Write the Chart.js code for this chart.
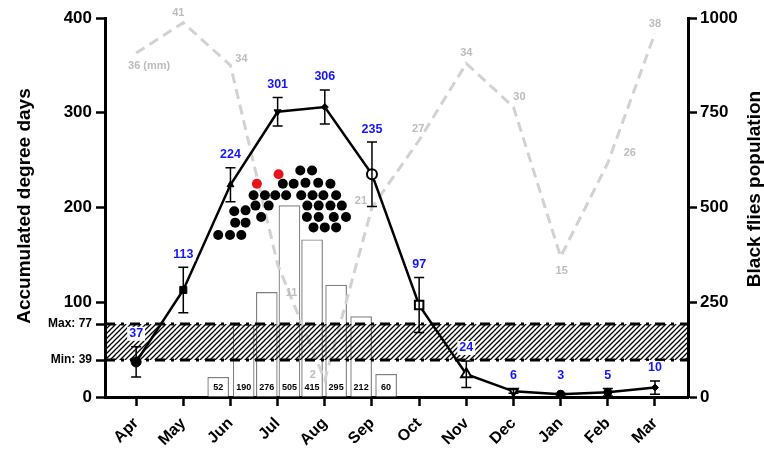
<!DOCTYPE html>
<html>
<head>
<meta charset="utf-8">
<script src="https://cdn.jsdelivr.net/npm/chart.js@4.4.0/dist/chart.umd.min.js"></script>
<style>
  body { margin: 0; background: #fff; }
  #wrap { width: 764px; height: 449px; }
</style>
</head>
<body>
<div id="wrap"><canvas id="chart" width="764" height="449"></canvas></div>
<script>
// === DATA ===
const months = ["Apr", "May", "Jun", "Jul", "Aug", "Sep", "Oct", "Nov", "Dec", "Jan", "Feb", "Mar"];
const degreeDays = [37, 113, 224, 301, 306, 235, 97, 24, 6, 3, 5, 10];
const degreeDaysErr = [16, 24, 18, 15, 18, 34, 29, 14, 2, 1, 4, 7];
const rainfallMm = [36, 41, 34, 11, 2, 21, 27, 34, 30, 15, 26, 38];
// rainfall overlay is not to scale in the original, heights read off in left-axis units
const rainfallHeight = [363, 395, 350, 140, 18, 200, 271, 352, 306, 148, 247, 384];
const flyCounts = [52, 190, 276, 505, 415, 295, 212, 60];
const flySamplePos = [1.74, 2.28, 2.77, 3.25, 3.73, 4.24, 4.77, 5.30];
const thresholdMin = 39;
const thresholdMax = 77;
const leftTicks = [0, 39, 77, 100, 200, 300, 400];
const rightTicks = [0, 250, 500, 750, 1000];
// fly cluster (month position, degree days), first two are the red ones
const flyDotX = [2.56, 3.02, 3.48, 3.73, 3.11, 3.34, 3.59, 3.86, 4.12,
  2.49, 2.73, 2.95, 3.18, 3.50, 3.74, 3.97, 4.24,
  2.53, 2.81, 3.63, 3.87, 4.12, 4.36,
  2.65, 3.62, 3.87, 4.19, 4.45,
  3.76, 4.00, 4.24,
  2.08, 2.32, 2.10, 2.32, 1.74, 1.99, 2.23];
const flyDotY = [225, 235, 239, 239, 225, 225, 226, 226, 225,
  213, 213, 213, 213, 213, 213, 213, 213,
  202, 202, 202, 202, 202, 202,
  190, 190, 190, 190, 190,
  179, 179, 179,
  196, 197, 184, 184, 171, 171, 171];
const redDots = 2;

// === STYLE ===
const FONT = "'Liberation Sans', Arial, sans-serif";
Chart.defaults.font.family = FONT;
Chart.defaults.color = "#000";

const markerStyle = ["circle", "rect", "triangle", "triangle", "rectRot", "circle", "rect", "triangle", "triangle", "circle", "circle", "rectRot"];
const markerRot = [0, 0, 0, 180, 0, 0, 0, 0, 180, 0, 0, 0];
const markerFill = ["#000", "#000", "#000", "#000", "#000", "#fff", "#fff", "#fff", "#fff", "#000", "#000", "#000"];
const markerSize = [5, 5, 4, 4, 3.5, 5, 6, 6, 5, 4, 4, 3.5];
const markerBorder = [1, 1, 1, 1, 1, 2, 2, 2, 2, 1, 1, 1];
// rainfall label offsets from each point [dx, dy]
const rainLabelOffset = [[13, 13], [-5, -10], [11, -6], [14, 29], [-12, -5], [-11, -7],
  [-1, -11], [0, -11], [6, -10], [1, 14], [22, -10], [0, -9]];

const ctx = document.getElementById("chart").getContext("2d");

function makeHatch() {
  const c = document.createElement("canvas");
  c.width = 5; c.height = 5;
  const g = c.getContext("2d");
  g.strokeStyle = "#000";
  g.lineWidth = 1.3;
  g.beginPath();
  g.moveTo(-1, 6); g.lineTo(6, -1);
  g.moveTo(-1, 1); g.lineTo(1, -1);
  g.moveTo(4, 6); g.lineTo(6, 4);
  g.stroke();
  return ctx.createPattern(c, "repeat");
}
const hatch = makeHatch();

// hatched threshold band, drawn over bars and rainfall but under the main line
const bandPlugin = {
  id: "band",
  afterDatasetDraw(chart, args) {
    if (args.index !== 1) return;
    const { ctx, chartArea: a, scales: { y } } = chart;
    const top = y.getPixelForValue(thresholdMax);
    const bot = y.getPixelForValue(thresholdMin);
    ctx.save();
    ctx.fillStyle = hatch;
    ctx.fillRect(a.left, top, a.right - a.left, bot - top);
    ctx.strokeStyle = "#000";
    ctx.lineWidth = 3;
    ctx.setLineDash([10, 6, 3, 6]);
    [top, bot].forEach((yy) => {
      ctx.beginPath();
      ctx.moveTo(a.left, yy);
      ctx.lineTo(a.right, yy);
      ctx.stroke();
    });
    ctx.restore();
  },
};

const annotPlugin = {
  id: "annot",
  afterDatasetsDraw(chart) {
    const { ctx, scales: { x, y, y2 } } = chart;
    ctx.save();

    // error bars
    ctx.strokeStyle = "#000";
    ctx.lineWidth = 1.5;
    degreeDays.forEach((v, i) => {
      const px = x.getPixelForValue(i);
      const hi = y.getPixelForValue(v + degreeDaysErr[i]);
      const lo = y.getPixelForValue(v - degreeDaysErr[i]);
      ctx.beginPath();
      ctx.moveTo(px, hi); ctx.lineTo(px, lo);
      ctx.moveTo(px - 5, hi); ctx.lineTo(px + 5, hi);
      ctx.moveTo(px - 5, lo); ctx.lineTo(px + 5, lo);
      ctx.stroke();
    });

    // blue value labels with white box
    ctx.font = "bold 12.5px " + FONT;
    ctx.textAlign = "center";
    ctx.textBaseline = "middle";
    degreeDays.forEach((v, i) => {
      const px = x.getPixelForValue(i);
      const py = Math.min(y.getPixelForValue(v + degreeDaysErr[i]) - 13, 376);
      const w = ctx.measureText(String(v)).width;
      ctx.fillStyle = "#fff";
      ctx.fillRect(px - w / 2 - 2, py - 7, w + 4, 14);
      ctx.fillStyle = "#1414ff";
      ctx.fillText(String(v), px, py);
    });

    // rainfall labels
    ctx.font = "bold 11px " + FONT;
    ctx.fillStyle = "#bdbdbd";
    rainfallMm.forEach((v, i) => {
      const px = x.getPixelForValue(i) + rainLabelOffset[i][0];
      const py = y.getPixelForValue(rainfallHeight[i]) + rainLabelOffset[i][1];
      ctx.fillText(i === 0 ? v + " (mm)" : String(v), px, py);
    });

    // fly counts at the foot of each bar
    ctx.font = "bold 9px " + FONT;
    ctx.fillStyle = "#000";
    flyCounts.forEach((v, i) => {
      ctx.fillText(String(v), x.getPixelForValue(flySamplePos[i]), y2.getPixelForValue(0) - 9);
    });

    // axis titles, both reading bottom to top
    ctx.font = "bold 19px " + FONT;
    ctx.textBaseline = "alphabetic";
    ctx.translate(30, 206);
    ctx.rotate(-Math.PI / 2);
    ctx.fillText("Accumulated degree days", 0, 0);
    ctx.setTransform(1, 0, 0, 1, 0, 0);
    ctx.translate(760, 189);
    ctx.rotate(-Math.PI / 2);
    ctx.fillText("Black flies population", 0, 0);
    ctx.restore();
  },
};

const axisGrid = {
  display: true,
  drawOnChartArea: false,
  drawTicks: true,
  offset: false,
  tickLength: 9,
  tickWidth: 2.5,
  tickColor: "#000",
};
const axisBorder = { display: true, width: 3, color: "#000" };

new Chart(ctx, {
  type: "line",
  data: {
    datasets: [
      {
        label: "Accumulated degree days",
        data: degreeDays.map((v, i) => ({ x: i, y: v })),
        yAxisID: "y",
        borderColor: "#000",
        borderWidth: 2.5,
        tension: 0,
        pointStyle: markerStyle,
        pointRotation: markerRot,
        pointRadius: markerSize,
        pointBackgroundColor: markerFill,
        pointBorderColor: "#000",
        pointBorderWidth: markerBorder,
        order: 1,
      },
      {
        label: "Rainfall (mm)",
        data: rainfallHeight.map((v, i) => ({ x: i, y: v })),
        yAxisID: "y",
        borderColor: "#d2d2d2",
        borderWidth: 3,
        borderDash: [10, 6],
        pointRadius: 0,
        tension: 0,
        order: 3,
      },
      {
        label: "Black flies",
        data: flyDotX.map((v, i) => ({ x: v, y: flyDotY[i] })),
        yAxisID: "y",
        showLine: false,
        pointRadius: 5,
        pointBorderWidth: 0,
        pointBackgroundColor: flyDotX.map((v, i) => (i < redDots ? "#e8141c" : "#000")),
        order: 2,
      },
      {
        type: "bar",
        label: "Black flies population",
        data: flyCounts.map((v, i) => ({ x: flySamplePos[i], y: v })),
        yAxisID: "y2",
        backgroundColor: "#fff",
        borderColor: "#808080",
        borderWidth: 1.2,
        barThickness: 21,
        order: 4,
      },
    ],
  },
  options: {
    responsive: false,
    animation: false,
    devicePixelRatio: 1,
    layout: { padding: { top: 18, left: 0, right: 0, bottom: 0 } },
    plugins: { legend: { display: false }, tooltip: { enabled: false } },
    scales: {
      x: {
        type: "linear",
        offset: false,
        min: -0.66,
        max: 11.7,
        grid: axisGrid,
        border: axisBorder,
        afterBuildTicks: (s) => { s.ticks = months.map((m, i) => ({ value: i })); },
        afterFit: (s) => { s.height = 52; },
        ticks: {
          autoSkip: false,
          minRotation: 45,
          maxRotation: 45,
          padding: 8,
          font: { size: 16, weight: "bold" },
          callback: (v) => months[v],
        },
      },
      y: {
        position: "left",
        min: 0,
        max: 400,
        grid: axisGrid,
        border: axisBorder,
        afterBuildTicks: (s) => { s.ticks = leftTicks.map((v) => ({ value: v })); },
        afterFit: (s) => { s.width = 105; },
        ticks: {
          padding: 4,
          font: (c) =>
            c.tick && (c.tick.value === thresholdMin || c.tick.value === thresholdMax)
              ? { size: 12, weight: "bold" }
              : { size: 17, weight: "bold" },
          callback: (v) => (v === thresholdMax ? "Max: " + v : v === thresholdMin ? "Min: " + v : String(v)),
        },
      },
      y2: {
        position: "right",
        min: 0,
        max: 1000,
        grid: axisGrid,
        border: axisBorder,
        afterBuildTicks: (s) => { s.ticks = rightTicks.map((v) => ({ value: v })); },
        afterFit: (s) => { s.width = 76; },
        ticks: { padding: 3, font: { size: 17, weight: "bold" }, callback: (v) => String(v) },
      },
    },
  },
  plugins: [bandPlugin, annotPlugin],
});
</script>
</body>
</html>
